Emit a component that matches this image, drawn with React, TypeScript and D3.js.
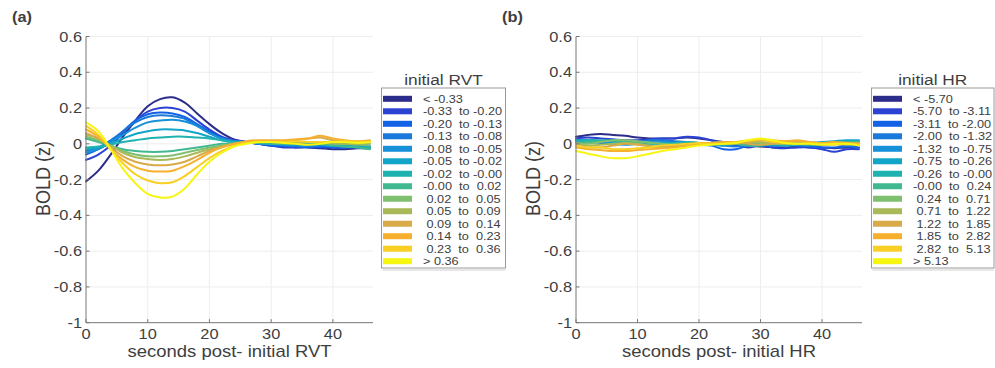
import React from "react";
import * as d3 from "d3";

// ---------- data ----------
const seconds = [0, 2, 4, 6, 8, 10, 12, 14, 16, 18, 20, 22, 24, 26, 28, 30, 32, 34, 36, 38, 40, 42, 44, 46];

const yTicks = [0.6, 0.4, 0.2, 0, -0.2, -0.4, -0.6, -0.8, -1];
const yTickLabels = ["0.6", "0.4", "0.2", "0", "-0.2", "-0.4", "-0.6", "-0.8", "-1"];
const xTicks = [0, 10, 20, 30, 40];

const binColors = [
  "#2c2c8a", "#2b42d2", "#1262e6", "#1a79da", "#1690d8", "#12a5c8", "#1eb2b0",
  "#40b890", "#7fc070", "#a9b957", "#d8aa48", "#f6b02e", "#f8cf22", "#f6f612",
];

const rvtLabels = [
  "< -0.33", "-0.33  to -0.20", "-0.20  to -0.13", "-0.13  to -0.08", "-0.08  to -0.05",
  "-0.05  to -0.02", "-0.02  to -0.00", "-0.00  to  0.02", " 0.02  to  0.05", " 0.05  to  0.09",
  " 0.09  to  0.14", " 0.14  to  0.23", " 0.23  to  0.36", "> 0.36",
];
const hrLabels = [
  "< -5.70", "-5.70  to -3.11", "-3.11  to -2.00", "-2.00  to -1.32", "-1.32  to -0.75",
  "-0.75  to -0.26", "-0.26  to -0.00", "-0.00  to  0.24", " 0.24  to  0.71", " 0.71  to  1.22",
  " 1.22  to  1.85", " 1.85  to  2.82", " 2.82  to  5.13", "> 5.13",
];

// BOLD (z) responses, one row per initial-RVT bin
const rvtSeries = [
  [-0.21, -0.15, -0.06, 0.04, 0.13, 0.21, 0.25, 0.26, 0.23, 0.17, 0.11, 0.06, 0.025, 0.01, 0.0, -0.01, -0.015, -0.02, -0.02, -0.025, -0.03, -0.03, -0.025, -0.025],
  [-0.09, -0.06, -0.01, 0.06, 0.13, 0.18, 0.2, 0.2, 0.18, 0.13, 0.08, 0.04, 0.02, 0.01, 0.0, -0.01, -0.02, -0.02, -0.015, -0.02, -0.02, -0.025, -0.02, -0.02],
  [-0.06, -0.03, 0.01, 0.07, 0.13, 0.165, 0.175, 0.17, 0.15, 0.11, 0.07, 0.035, 0.015, 0.01, 0.0, -0.01, -0.01, -0.015, -0.02, -0.015, -0.02, -0.02, -0.015, -0.02],
  [-0.04, -0.02, 0.02, 0.07, 0.12, 0.15, 0.16, 0.155, 0.14, 0.1, 0.06, 0.03, 0.015, 0.01, 0.0, 0.0, -0.01, -0.01, -0.015, -0.01, -0.01, -0.015, -0.01, -0.01],
  [-0.05, -0.03, 0.01, 0.05, 0.09, 0.12, 0.13, 0.135, 0.125, 0.1, 0.06, 0.03, 0.015, 0.01, 0.005, 0.0, -0.005, -0.01, -0.01, -0.005, -0.01, -0.01, -0.015, -0.02],
  [-0.03, -0.02, 0.0, 0.03, 0.055, 0.07, 0.08, 0.08, 0.075, 0.06, 0.04, 0.02, 0.01, 0.01, 0.005, 0.0, 0.0, -0.005, 0.0, -0.005, -0.01, -0.01, -0.015, -0.02],
  [-0.02, -0.015, -0.005, 0.01, 0.02, 0.03, 0.035, 0.04, 0.04, 0.035, 0.03, 0.02, 0.01, 0.01, 0.005, 0.005, 0.0, 0.0, 0.005, 0.0, -0.01, -0.015, -0.02, -0.025],
  [0.03, 0.01, -0.01, -0.03, -0.04, -0.045, -0.045, -0.04, -0.03, -0.02, -0.01, 0.0, 0.0, 0.005, 0.005, 0.0, 0.0, 0.0, -0.005, 0.0, -0.01, -0.015, -0.02, -0.03],
  [0.04, 0.02, -0.01, -0.04, -0.06, -0.07, -0.07, -0.065, -0.05, -0.035, -0.02, -0.01, 0.0, 0.005, 0.01, 0.01, 0.005, 0.005, 0.01, 0.005, 0.0, 0.0, -0.005, -0.01],
  [0.05, 0.03, -0.01, -0.05, -0.075, -0.085, -0.09, -0.085, -0.07, -0.05, -0.03, -0.015, 0.0, 0.01, 0.01, 0.01, 0.01, 0.005, 0.01, 0.01, 0.005, 0.0, 0.0, 0.005],
  [0.06, 0.03, -0.02, -0.07, -0.1, -0.115, -0.12, -0.115, -0.1, -0.07, -0.04, -0.02, 0.0, 0.01, 0.015, 0.01, 0.015, 0.02, 0.03, 0.035, 0.02, 0.015, 0.01, 0.01],
  [0.08, 0.04, -0.03, -0.09, -0.13, -0.15, -0.155, -0.15, -0.125, -0.09, -0.05, -0.02, 0.0, 0.015, 0.02, 0.02, 0.02, 0.025, 0.03, 0.045, 0.03, 0.02, 0.015, 0.02],
  [0.1, 0.05, -0.03, -0.11, -0.17, -0.205, -0.22, -0.215, -0.18, -0.13, -0.08, -0.04, -0.01, 0.005, 0.01, 0.01, 0.01, 0.015, 0.01, 0.01, 0.01, 0.015, 0.01, 0.01],
  [0.12, 0.07, -0.03, -0.14, -0.22, -0.28, -0.3, -0.295, -0.25, -0.17, -0.1, -0.05, -0.015, 0.0, 0.01, 0.01, 0.005, 0.0, -0.005, 0.0, 0.01, 0.01, 0.005, 0.01],
];

// BOLD (z) responses, one row per initial-HR bin
const hrSeries = [
  [0.04, 0.05, 0.055, 0.05, 0.045, 0.035, 0.03, 0.03, 0.03, 0.035, 0.03, 0.02, 0.01, 0.0, -0.01, -0.015, -0.02, -0.02, -0.015, -0.02, -0.02, -0.025, -0.02, -0.02],
  [0.03, 0.035, 0.03, 0.025, 0.02, 0.02, 0.025, 0.03, 0.03, 0.04, 0.035, 0.02, 0.0, -0.01, -0.02, -0.01, -0.02, -0.025, -0.02, -0.02, -0.03, -0.045, -0.03, -0.03],
  [0.02, 0.02, 0.015, 0.01, 0.01, 0.01, 0.015, 0.02, 0.01, 0.0, -0.005, -0.01, -0.03, -0.03, -0.01, -0.005, -0.01, -0.01, -0.005, -0.015, -0.02, -0.02, -0.015, -0.02],
  [0.01, 0.01, 0.005, 0.0, 0.01, 0.01, 0.02, 0.02, 0.015, 0.01, 0.005, 0.0, -0.01, -0.015, -0.01, -0.01, 0.0, -0.005, -0.01, -0.01, -0.005, 0.0, -0.01, -0.005],
  [0.02, 0.015, 0.01, 0.0, -0.005, 0.0, 0.005, 0.01, 0.005, 0.0, 0.0, -0.005, -0.01, 0.0, 0.005, 0.0, -0.01, 0.0, 0.005, 0.0, 0.0, 0.01, 0.01, 0.015],
  [0.02, 0.02, 0.015, 0.01, 0.005, 0.0, 0.0, 0.005, 0.0, -0.005, 0.0, 0.005, 0.01, 0.01, 0.005, 0.0, -0.005, 0.0, 0.0, 0.005, 0.01, 0.015, 0.02, 0.02],
  [0.01, 0.02, 0.02, 0.015, 0.01, 0.005, 0.0, 0.0, 0.005, 0.01, 0.005, 0.0, -0.005, 0.0, 0.01, 0.005, 0.0, -0.01, -0.005, 0.0, 0.005, 0.01, 0.01, 0.015],
  [0.0, 0.01, 0.015, 0.02, 0.015, 0.01, 0.01, 0.0, -0.01, -0.005, 0.0, 0.005, 0.01, 0.0, -0.01, -0.01, 0.0, 0.005, 0.0, -0.005, 0.0, 0.005, 0.01, 0.01],
  [0.005, 0.0, 0.01, 0.02, 0.02, 0.015, 0.005, 0.0, -0.005, -0.01, -0.005, 0.0, 0.005, 0.01, 0.01, 0.005, 0.0, 0.0, 0.005, 0.0, -0.005, 0.0, 0.005, 0.0],
  [0.0, -0.01, -0.005, 0.0, 0.005, 0.0, -0.01, -0.015, -0.01, -0.005, 0.0, 0.005, 0.0, 0.0, 0.01, 0.01, 0.005, 0.0, 0.01, 0.005, 0.0, 0.0, -0.005, 0.0],
  [-0.01, -0.02, -0.02, -0.01, 0.0, -0.005, -0.015, -0.02, -0.015, -0.01, 0.0, 0.005, 0.005, 0.01, 0.0, -0.005, 0.0, 0.01, 0.015, 0.01, 0.0, 0.005, 0.0, 0.005],
  [-0.02, -0.03, -0.035, -0.04, -0.04, -0.035, -0.03, -0.025, -0.02, -0.01, 0.0, 0.005, 0.01, 0.01, 0.015, 0.02, 0.02, 0.015, 0.02, 0.01, 0.005, 0.01, 0.005, 0.0],
  [-0.01, -0.02, -0.02, -0.03, -0.03, -0.025, -0.02, -0.01, -0.005, 0.0, 0.005, 0.0, 0.0, 0.01, 0.02, 0.025, 0.01, 0.005, 0.0, 0.005, 0.0, -0.005, 0.0, -0.005],
  [-0.04, -0.055, -0.07, -0.08, -0.08, -0.07, -0.055, -0.04, -0.03, -0.02, -0.01, -0.005, 0.0, 0.005, 0.02, 0.03, 0.02, 0.005, 0.0, 0.0, -0.005, 0.0, 0.0, -0.01],
];

// ---------- drawing ----------
const FONT = "'Liberation Sans', Arial, Helvetica, sans-serif";
const TXT = "#3e3e3e";
const SX = 1.17;

type TProps = {
  x: number; y: number; size: number; sx?: number; anchor?: string;
  weight?: string; rotate?: number; children: React.ReactNode;
};
function T({ x, y, size, sx = SX, anchor = "start", weight, rotate, children }: TProps) {
  const tr = `translate(${x},${y}) scale(${sx},1)` + (rotate ? ` rotate(${rotate})` : "");
  return (
    <text transform={tr} fontSize={size} textAnchor={anchor} fontFamily={FONT}
      fill={TXT} fontWeight={weight} style={{ whiteSpace: "pre" }}>
      {children}
    </text>
  );
}

type PanelProps = {
  left: number; right: number; series: number[][]; labels: string[];
  title: string; xlabel: string; tag: string; tagX: number;
  legX: number; legRight: number;
};

function Panel({ left, right, series, labels, title, xlabel, tag, tagX, legX, legRight }: PanelProps) {
  const top = 36.5, bottom = 322.7;
  const x = d3.scaleLinear().domain([0, 46.5]).range([left, right]);
  const y = d3.scaleLinear().domain([-1, 0.6]).range([bottom, top]);
  const line = d3.line<number>()
    .x((_, i) => x(seconds[i]))
    .y((v) => y(v))
    .curve(d3.curveCatmullRom.alpha(0.5));

  const legTop = 88, legBottom = 268;
  const rowY = d3.scaleLinear().domain([0, 13]).range([98.8, 261.2]);

  return (
    <g>
      {/* grid */}
      {xTicks.filter((t) => t > 0).map((t) => (
        <line key={"gx" + t} x1={x(t)} x2={x(t)} y1={top} y2={bottom} stroke="#ededed" strokeWidth={1} />
      ))}
      {yTicks.filter((t) => t > -1).map((t) => (
        <line key={"gy" + t} x1={left} x2={right} y1={y(t)} y2={y(t)} stroke="#ededed" strokeWidth={1} />
      ))}
      {/* series */}
      {series.map((s, i) => (
        <path key={"s" + i} d={line(s) || ""} fill="none" stroke={binColors[i]} strokeWidth={2}
          strokeLinejoin="round" strokeLinecap="round" />
      ))}
      {/* axes */}
      <line x1={left} x2={left} y1={top} y2={bottom} stroke="#777" strokeWidth={1} />
      <line x1={left} x2={right} y1={bottom} y2={bottom} stroke="#777" strokeWidth={1} />
      {yTicks.map((t, i) => (
        <g key={"yt" + t}>
          <line x1={left} x2={left + 3.5} y1={y(t)} y2={y(t)} stroke="#777" strokeWidth={1} />
          <T x={left - 4} y={y(t) + 5} size={14} anchor="end">{yTickLabels[i]}</T>
        </g>
      ))}
      {xTicks.map((t) => (
        <g key={"xt" + t}>
          <line x1={x(t)} x2={x(t)} y1={bottom} y2={bottom - 3.5} stroke="#777" strokeWidth={1} />
          <T x={x(t)} y={339} size={14} anchor="middle">{String(t)}</T>
        </g>
      ))}
      <T x={(left + right) / 2} y={357} size={15.8} anchor="middle">{xlabel}</T>
      <T x={left - 36.5} y={178.5} size={18} anchor="middle" rotate={-90}>BOLD (z)</T>
      <T x={tagX} y={22} size={14} weight="bold">{tag}</T>

      {/* legend */}
      <T x={(legX + legRight) / 2} y={85} size={14.8} anchor="middle">{title}</T>
      <line x1={legX + 1} x2={legRight} y1={legBottom + 2} y2={legBottom + 2} stroke="#d0d0d0" strokeWidth={1} />
      <rect x={legX} y={legTop} width={legRight - legX} height={legBottom - legTop}
        fill="#fff" stroke="#9a9a9a" strokeWidth={1} />
      {labels.map((lab, i) => (
        <g key={"lg" + i}>
          <rect x={legX + 1.5} y={rowY(i) - 3} width={29} height={6} fill={binColors[i]} />
          <T x={legX + 41.5} y={rowY(i) + 3.9} size={10.6} sx={1.2}>{lab}</T>
        </g>
      ))}
    </g>
  );
}

export default function App() {
  return (
    <svg width={995} height={368} style={{ position: "absolute", left: 0, top: 0, background: "#fff" }}>
      <rect x={0} y={0} width={995} height={368} fill="#fff" />
      <Panel left={86} right={373} series={rvtSeries} labels={rvtLabels} title="initial RVT"
        xlabel="seconds post- initial RVT" tag="(a)" tagX={12} legX={381.5} legRight={505.5} />
      <Panel left={576} right={862} series={hrSeries} labels={hrLabels} title="initial HR"
        xlabel="seconds post- initial HR" tag="(b)" tagX={502} legX={871.5} legRight={994} />
    </svg>
  );
}
